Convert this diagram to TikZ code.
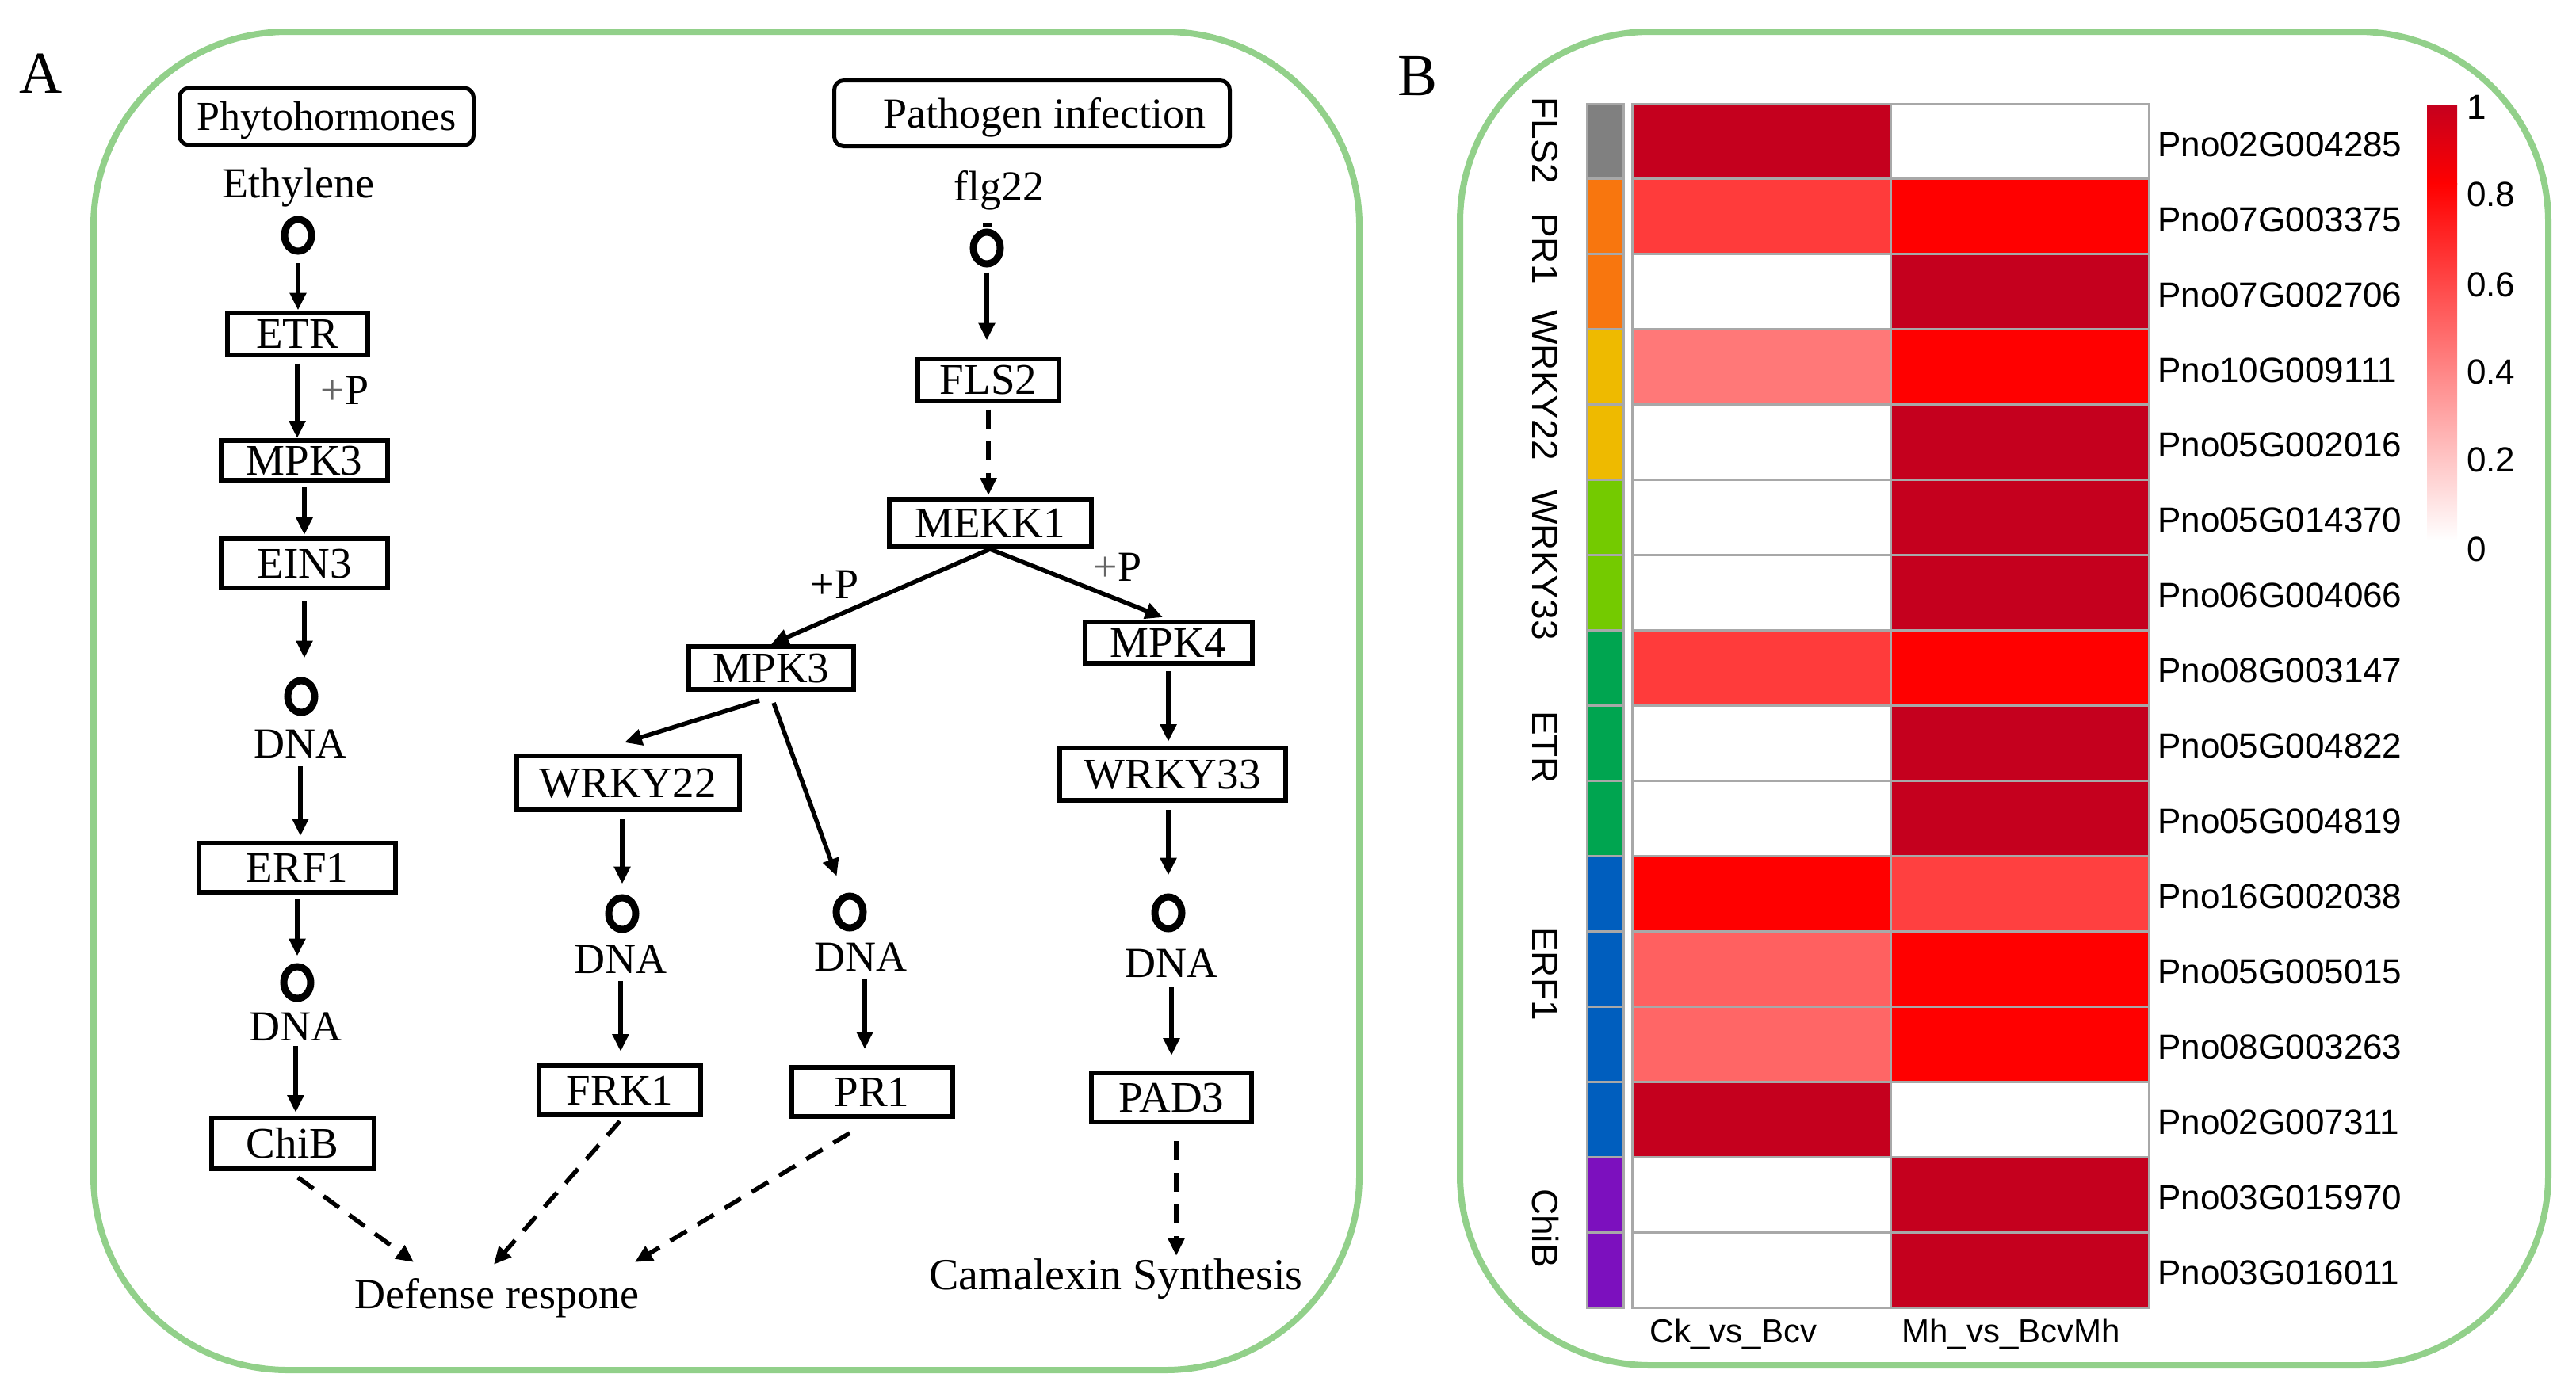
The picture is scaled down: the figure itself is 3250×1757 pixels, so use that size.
\documentclass[tikz,border=0pt]{standalone}
\usepackage{fontspec}
\setmainfont{Liberation Serif}
\newfontfamily\hsans{Liberation Sans}
\usetikzlibrary{arrows.meta,shapes.geometric}
\definecolor{gborder}{RGB}{146,208,138}
\definecolor{dk}{RGB}{197,0,30}
\definecolor{rd}{RGB}{255,0,0}
\definecolor{cA}{RGB}{255,59,59}
\definecolor{cB}{RGB}{255,120,120}
\definecolor{cC}{RGB}{255,64,64}
\definecolor{cD}{RGB}{255,96,96}
\definecolor{cE}{RGB}{255,102,102}
\definecolor{gridc}{RGB}{168,168,168}
\definecolor{aGrey}{RGB}{128,128,128}
\definecolor{aOrange}{RGB}{248,118,14}
\definecolor{aGold}{RGB}{238,186,0}
\definecolor{aLime}{RGB}{116,202,0}
\definecolor{aGreen}{RGB}{0,165,80}
\definecolor{aBlue}{RGB}{0,94,190}
\definecolor{aPurple}{RGB}{124,16,190}
\tikzset{
 boxn/.style={draw, line width=6pt, inner sep=0pt, text height=36pt, text depth=0pt, font=\fontsize{55}{60}\selectfont},
 rbox/.style={draw, line width=5pt, rounded corners=12pt, inner sep=0pt, text depth=0pt},
 lbl/.style={inner sep=0pt, text height=36pt, text depth=0pt, font=\fontsize{54}{60}\selectfont},
 oc/.style={draw, ellipse, line width=9pt, minimum width=34pt, minimum height=40pt, inner sep=0pt},
 arr/.style={line width=5.5pt, -{Triangle[length=22pt,width=20pt]}},
 darr/.style={arr, dash pattern=on 24pt off 16pt},
 slbl/.style={inner sep=0pt, text height=31.5pt, text depth=0pt, font=\hsans\fontsize{44}{50}\selectfont},
 rlbl/.style={inner sep=0pt, rotate=-90, text height=33pt, text depth=0pt, font=\hsans\fontsize{46}{50}\selectfont},
 clbl/.style={inner sep=0pt, text height=30pt, text depth=0pt, font=\hsans\fontsize{42}{46}\selectfont},
 panel/.style={draw=gborder, line width=8pt},
}
\begin{document}
\begin{tikzpicture}[x=1pt,y=-1pt]
\useasboundingbox (0,0) rectangle (3250,1757);

% panel frames
\draw[panel, rounded corners=245pt] (118,40) rectangle (1715,1729);
\draw[panel, rounded corners=240pt] (1842,40) rectangle (3215,1723);

% panel letters
\node[inner sep=0pt, text height=50pt, text depth=0pt, font=\fontsize{75}{80}\selectfont] (labA) at (52,92) {A};
\node[inner sep=0pt, text height=50pt, text depth=0pt, font=\fontsize{75}{80}\selectfont] (labB) at (1788,95) {B};

% ---------------- Panel A: left column ----------------
\node[rbox, text height=34pt, minimum width=371pt, minimum height=72pt, font=\fontsize{52}{56}\selectfont] (phyto) at (412,147) {Phytohormones};
\node[lbl, anchor=base] (ethylene) at (376,249) {Ethylene};
\node[oc] (o1) at (376,297) {};
\node[boxn, minimum width=177pt, minimum height=53pt] (etr) at (375,421) {ETR};
\node[lbl] (p1) at (435,492) {\textcolor{black!60}{+}P};
\node[boxn, minimum width=210pt, minimum height=50pt] (mpk3a) at (384,581) {MPK3};
\node[boxn, minimum width=210pt, minimum height=62pt] (ein3) at (384,711) {EIN3};
\node[oc] (o2) at (380,879) {};
\node[lbl] (dna1) at (379,938) {DNA};
\node[boxn, minimum width=248pt, minimum height=62pt] (erf1) at (375,1095) {ERF1};
\node[oc] (o3) at (375,1240) {};
\node[lbl] (dna2) at (373,1295) {DNA};
\node[boxn, minimum width=205pt, minimum height=64pt] (chib) at (369,1443) {ChiB};
\node[lbl, anchor=base] (defense) at (627,1651) {Defense respone};

% ---------------- Panel A: pathogen branch ----------------
\node[rbox, text height=36pt, minimum width=499pt, minimum height=83pt, font=\fontsize{54}{60}\selectfont] (pathogen) at (1302,143) {\hspace*{32pt}Pathogen infection};
\node[lbl, anchor=base] (flg22) at (1260,253) {flg22};
\node[oc] (o4) at (1245,313) {};
\draw[line width=4pt] (1240,284) -- (1252,284);
\node[boxn, minimum width=178pt, minimum height=53pt] (fls2) at (1247,479) {FLS2};
\node[boxn, minimum width=255pt, minimum height=60pt] (mekk1) at (1249,660) {MEKK1};
\node[lbl] (p2) at (1053,737) {+P};
\node[lbl] (p3) at (1410,715) {\textcolor{black!60}{+}P};
\node[boxn, minimum width=208pt, minimum height=54pt] (mpk3b) at (973,843) {MPK3};
\node[boxn, minimum width=211pt, minimum height=52pt] (mpk4) at (1474,811) {MPK4};
\node[boxn, minimum width=281pt, minimum height=68pt] (wrky22) at (792,988) {WRKY22};
\node[boxn, minimum width=285pt, minimum height=66pt] (wrky33) at (1479,977) {WRKY33};
\node[oc] (o5) at (785,1153) {};
\node[lbl] (dna3) at (783,1210) {DNA};
\node[boxn, minimum width=204pt, minimum height=62pt] (frk1) at (782,1376) {FRK1};
\node[oc] (o6) at (1072,1151) {};
\node[lbl] (dna4) at (1086,1207) {DNA};
\node[boxn, minimum width=203pt, minimum height=62pt] (pr1) at (1100,1378) {PR1};
\node[oc] (o7) at (1474,1152) {};
\node[lbl] (dna5) at (1478,1215) {DNA};
\node[boxn, minimum width=202pt, minimum height=62pt] (pad3) at (1478,1385) {PAD3};
\node[lbl, anchor=base, text height=37pt, font=\fontsize{56}{60}\selectfont] (camalexin) at (1408,1627) {Camalexin Synthesis};

% ---------------- connectors ----------------
\draw[arr, shorten <=10pt] (o1) -- (o1 |- etr.north);
\draw[arr, shorten <=8pt] (etr) -- (etr |- mpk3a.north);
\draw[arr, shorten <=6pt, shorten >=2pt] (mpk3a) -- (mpk3a |- ein3.north);
\draw[arr, shorten <=14pt, shorten >=24pt] (ein3) -- (ein3 |- o2.north);
\draw[arr, shorten <=11pt, shorten >=6pt] (dna1) -- (dna1 |- erf1.north);
\draw[arr, shorten <=6pt, shorten >=9pt] (erf1) -- (erf1 |- o3.north);
\draw[arr, shorten <=7pt, shorten >=4pt] (dna2) -- (dna2 |- chib.north);
\draw[darr] ([xshift=7pt,yshift=-8pt]chib.south) -- ([xshift=-105pt,yshift=22pt]defense.north);
\draw[darr] ([yshift=-5pt]frk1.south) -- ([xshift=-4pt,yshift=19pt]defense.north);
\draw[darr] ([xshift=-28pt,yshift=-18pt]pr1.south) -- ([xshift=174pt,yshift=22pt]defense.north);

\draw[arr, shorten <=6pt, shorten >=20pt] (o4) -- (o4 |- fls2.north);
\draw[darr, shorten <=8pt, shorten >=2pt] (fls2) -- (fls2 |- mekk1.north);
\draw[arr] (mekk1.south) -- (mpk3b.north);
\draw[arr] (mekk1.south) -- ([xshift=-7pt,yshift=3pt]mpk4.north);
\draw[arr] ([xshift=-15pt,yshift=-11pt]mpk3b.south) -- ([xshift=-4pt,yshift=14pt]wrky22.north);
\draw[arr, shorten >=24pt] ([xshift=3pt,yshift=-14pt]mpk3b.south) -- (o6);
\draw[arr, shorten <=8pt, shorten >=13pt] (o5 |- wrky22.south) -- (o5);
\draw[arr, shorten <=10pt, shorten >=15pt] (dna3) -- (dna3 |- frk1.north);
\draw[arr, shorten <=10pt, shorten >=20pt] ([xshift=5pt]dna4.south) -- ([xshift=5pt]dna4.south |- pr1.north);
\draw[arr, shorten <=7pt, shorten >=5pt] (mpk4) -- (mpk4 |- wrky33.north);
\draw[arr, shorten <=9pt, shorten >=23pt] (wrky33.south -| o7) -- (o7);
\draw[arr, shorten <=13pt, shorten >=19pt] (dna5) -- (dna5 |- pad3.north);
\draw[darr, shorten <=21pt, shorten >=5pt] ([xshift=6pt]pad3.south) -- ([xshift=6pt]pad3.south |- camalexin.north);

% ---------------- Panel B: heatmap ----------------
\foreach \i/\ca/\cb/\an/\g in {
 1/dk/white/aGrey/Pno02G004285,
 2/cA/rd/aOrange/Pno07G003375,
 3/white/dk/aOrange/Pno07G002706,
 4/cB/rd/aGold/Pno10G009111,
 5/white/dk/aGold/Pno05G002016,
 6/white/dk/aLime/Pno05G014370,
 7/white/dk/aLime/Pno06G004066,
 8/cA/rd/aGreen/Pno08G003147,
 9/white/dk/aGreen/Pno05G004822,
 10/white/dk/aGreen/Pno05G004819,
 11/rd/cC/aBlue/Pno16G002038,
 12/cD/rd/aBlue/Pno05G005015,
 13/cE/rd/aBlue/Pno08G003263,
 14/dk/white/aBlue/Pno02G007311,
 15/white/dk/aPurple/Pno03G015970,
 16/white/dk/aPurple/Pno03G016011}{
 \pgfmathsetmacro{\yt}{131+(\i-1)*94.94}
 \pgfmathsetmacro{\yb}{131+\i*94.94}
 \pgfmathsetmacro{\ym}{131+(\i-0.5)*94.94+3}
 \filldraw[fill=\an, draw=gridc, line width=3pt] (2002,\yt) rectangle (2048,\yb);
 \filldraw[fill=\ca, draw=gridc, line width=3pt] (2059,\yt) rectangle (2385,\yb);
 \filldraw[fill=\cb, draw=gridc, line width=3pt] (2385,\yt) rectangle (2711,\yb);
 \node[slbl, anchor=west] (g\i) at (2722,\ym) {\g};
}

% row annotation labels
\node[rlbl] (rFLS) at (1950,177) {FLS2};
\node[rlbl] (rPR) at (1950,314) {PR1};
\node[rlbl] (rW22) at (1950,486) {WRKY22};
\node[rlbl] (rW33) at (1950,713) {WRKY33};
\node[rlbl] (rETR) at (1950,943) {ETR};
\node[rlbl] (rERF) at (1950,1229) {ERF1};
\node[rlbl] (rChi) at (1950,1550) {ChiB};

% column labels
\node[clbl] (col1) at (2187,1679) {Ck\_vs\_Bcv};
\node[clbl] (col2) at (2537,1679) {Mh\_vs\_BcvMh};

% colour key
\shade[top color=dk, bottom color=rd] (3062,132) rectangle (3100,232);
\shade[top color=rd, bottom color=white] (3062,231) rectangle (3100,682);
\node[slbl, anchor=west] (k1) at (3112,135) {1};
\node[slbl, anchor=west] (k08) at (3112,245) {0.8};
\node[slbl, anchor=west] (k06) at (3112,359) {0.6};
\node[slbl, anchor=west] (k04) at (3112,469) {0.4};
\node[slbl, anchor=west] (k02) at (3112,580) {0.2};
\node[slbl, anchor=west] (k0) at (3112,693) {0};
\end{tikzpicture}
\end{document}
